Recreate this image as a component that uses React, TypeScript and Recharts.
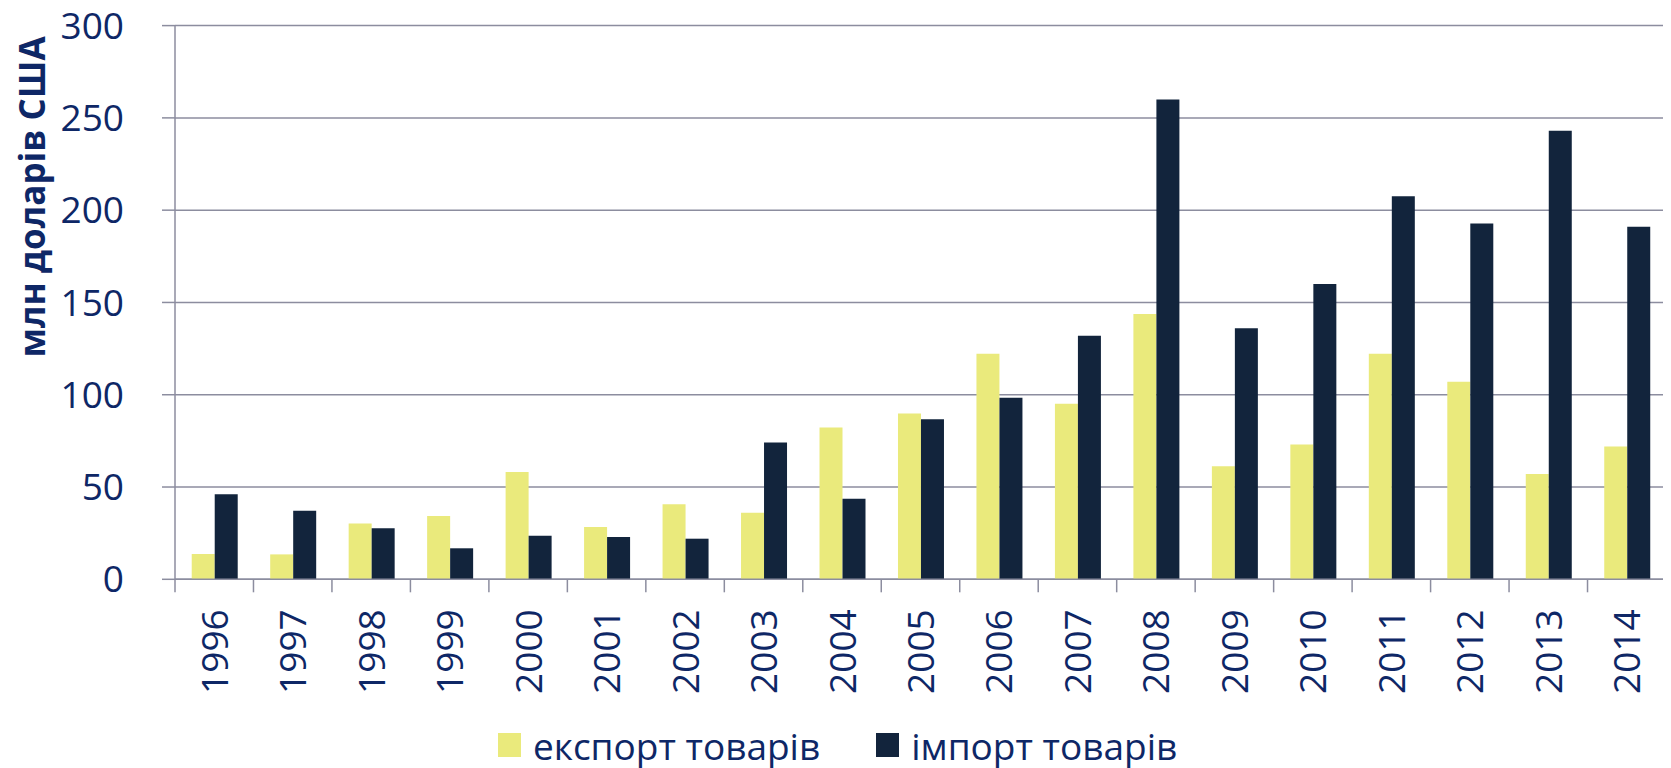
import React from 'react';
import { BarChart, Bar, XAxis, YAxis, CartesianGrid, Legend, Label } from 'recharts';

const years = ['1996', '1997', '1998', '1999', '2000', '2001', '2002', '2003', '2004', '2005', '2006', '2007', '2008', '2009', '2010', '2011', '2012', '2013', '2014'];
const exportValues = [13.7, 13.5, 30.3, 34.3, 58.1, 28.3, 40.7, 36.1, 82.2, 89.8, 122.2, 95.1, 143.8, 61.2, 73.1, 122.2, 107.0, 57.1, 72.0];
const importValues = [46.1, 37.1, 27.6, 16.8, 23.6, 22.9, 22.0, 74.1, 43.6, 86.7, 98.3, 131.9, 260.0, 136.0, 160.0, 207.6, 192.8, 243.0, 191.0];
const yTicks = [0, 50, 100, 150, 200, 250, 300];
const seriesNames = ['експорт товарів', 'імпорт товарів'];
const yTitle = 'млн доларів США';

const data = years.map((y, i) => ({ year: y, exp: exportValues[i], imp: importValues[i] }));

const FONT = "'Open Sans', sans-serif";
const TEXT = '#0E2766';
const GRID = '#8C8D9F';
const EXP_COLOR = '#EAEA7C';
const IMP_COLOR = '#12243C';

const W = 1663;
const H = 760;
const M = { top: 17.6, right: 5, bottom: 48.7, left: 0 };
const Y_W = 167;

const XTick = (props: any) => {
  const { x, y, payload, index } = props;
  const half = payload && typeof payload.offset === 'number' && payload.offset > 0
    ? payload.offset
    : (W - M.left - M.right - Y_W) / years.length / 2;
  return (
    <g>
      <line x1={x - half} x2={x - half} y1={y} y2={y + 13} stroke={GRID} strokeWidth={1.5} />
      {index === years.length - 1 && (
        <line x1={x + half} x2={x + half} y1={y} y2={y + 13} stroke={GRID} strokeWidth={1.5} />
      )}
      <text
        transform={`translate(${x},${y + 30}) rotate(-90)`}
        y={13.5}
        textAnchor="end"
        fill={TEXT}
        fontFamily={FONT}
        fontSize={37}
      >
        {payload.value}
      </text>
    </g>
  );
};

const YTitle = () => (
  <text
    transform={`translate(36.5,189) rotate(-90)`}
    textAnchor="middle"
    fill={TEXT}
    fontFamily={FONT}
    fontWeight="bold"
    fontSize={35}
  >
    {yTitle}
  </text>
);

const LegendContent = () => (
  <div style={{ display: 'flex', alignItems: 'center', height: 40, paddingLeft: 490, fontFamily: FONT, color: TEXT, fontSize: 37 }}>
    <span style={{ display: 'inline-block', width: 23, height: 24, background: EXP_COLOR, marginRight: 12 }} />
    <span style={{ marginRight: 56, whiteSpace: 'nowrap' }}>{seriesNames[0]}</span>
    <span style={{ display: 'inline-block', width: 23, height: 24, background: IMP_COLOR, marginRight: 12 }} />
    <span style={{ whiteSpace: 'nowrap' }}>{seriesNames[1]}</span>
  </div>
);

export default function App() {
  return (
    <BarChart width={W} height={H} data={data} margin={M} barCategoryGap="21.3%" barGap={0}>
      <CartesianGrid vertical={false} stroke={GRID} strokeWidth={1.5} />
      <XAxis
        dataKey="year"
        interval={0}
        tickLine={false}
        tickSize={0}
        tickMargin={0}
        height={100}
        axisLine={{ stroke: GRID, strokeWidth: 1.5 }}
        tick={<XTick />}
      />
      <YAxis
        width={Y_W}
        domain={[0, 300]}
        ticks={yTicks}
        interval={0}
        tickSize={13}
        tickMargin={38}
        tickLine={{ stroke: GRID, strokeWidth: 1.5 }}
        axisLine={{ stroke: GRID, strokeWidth: 1.5 }}
        tick={{ fill: TEXT, fontFamily: FONT, fontSize: 37 }}
      >
        <Label content={<YTitle />} />
      </YAxis>
      <Legend
        verticalAlign="bottom"
        content={<LegendContent />}
        wrapperStyle={{ top: 717, bottom: 'auto', left: 0, width: W, height: 40 }}
      />
      <Bar dataKey="exp" name={seriesNames[0]} fill={EXP_COLOR} isAnimationActive={false} />
      <Bar dataKey="imp" name={seriesNames[1]} fill={IMP_COLOR} isAnimationActive={false} />
    </BarChart>
  );
}
